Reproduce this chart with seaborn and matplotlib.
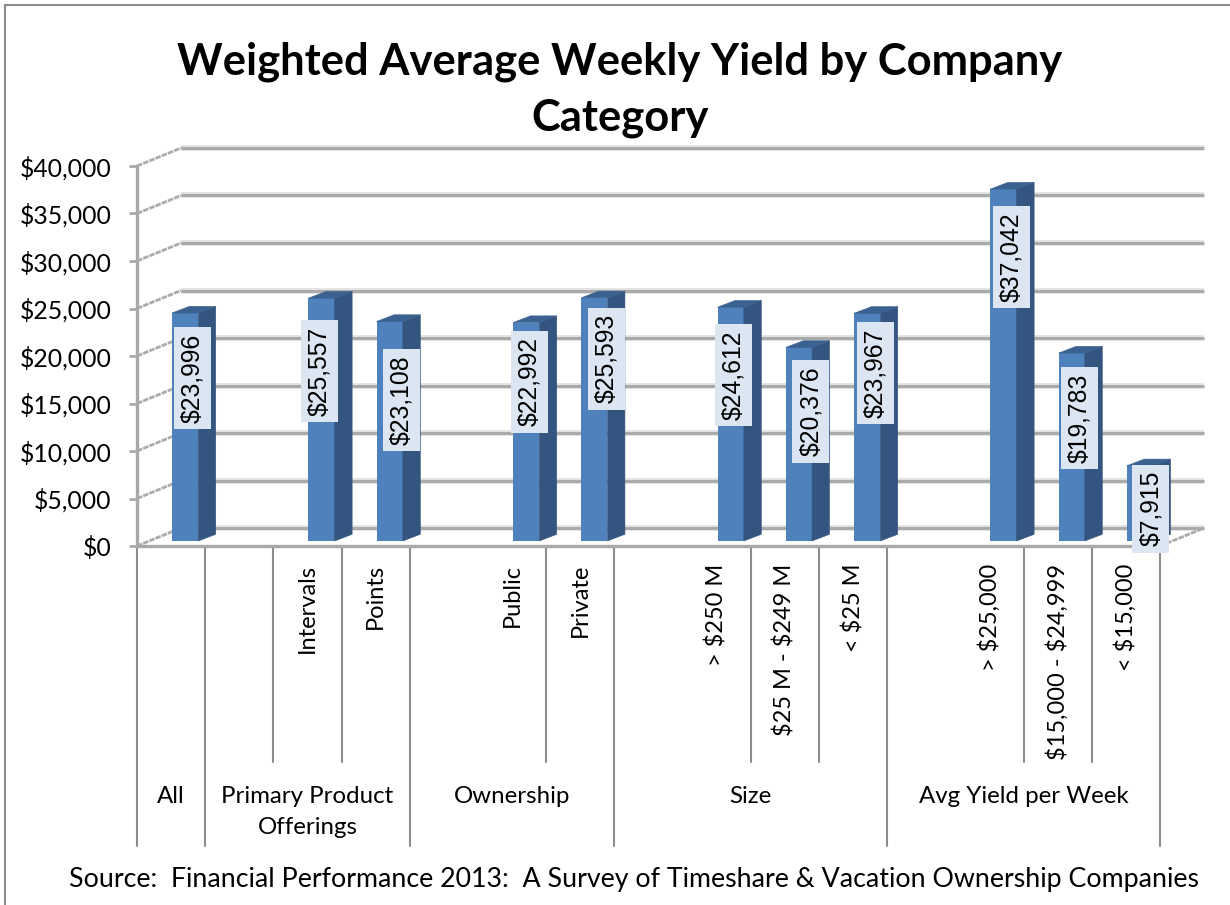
import matplotlib
matplotlib.use("Agg")
import matplotlib.pyplot as plt
import pandas as pd
import seaborn as sns
from matplotlib.patches import Polygon, Rectangle
from matplotlib.ticker import StrMethodFormatter
from matplotlib.transforms import Affine2D

# ---------- data ----------
slots = [0, 2, 3, 5, 6, 8, 9, 10, 12, 13, 14]
leaf_labels = ["", "Intervals", "Points", "Public", "Private", "> $250 M",
               "$25 M - $249 M", "< $25 M", "> $25,000", "$15,000 - $24,999", "< $15,000"]
values = [23996, 25557, 23108, 22992, 25593, 24612, 20376, 23967, 37042, 19783, 7915]
group_names = ["All", "Primary Product\nOfferings", "Ownership", "Size", "Avg Yield per Week"]
group_edges = [-0.5, 0.5, 3.5, 6.5, 10.5, 14.5]
leaf_edges = [1.5, 2.5, 5.5, 8.5, 9.5, 12.5, 13.5]
title = "Weighted Average Weekly Yield by Company\nCategory"
source = "Source:  Financial Performance 2013:  A Survey of Timeshare & Vacation Ownership Companies"

# label displacement from each bar's top (pixels), as hand-placed in the original
label_dx = [21, 12, 26, 17.5, 26, 17, 26, 22, 22, 22, 25]
label_dy = [-60, -68, -73.5, -54, -56, -63, -59, -55, -63, -60, -38]

# ---------- style ----------
W, H = 1230, 905
L, R, B, T = 137, 1160, 546, 166
GRID = "#A9A9A9"
FRONT, SIDE, TOP = "#4F81BD", "#34557F", "#3A618F"
sns.set_theme(style="white")
plt.rcParams["font.family"] = ["Lato", "DejaVu Sans"]

fig = plt.figure(figsize=(W / 100, H / 100), dpi=100, facecolor="white")
ax = fig.add_axes([L / W, (H - B) / H, (R - L) / W, (B - T) / H])
ax.set_facecolor("none")

df = pd.DataFrame({"slot": slots, "value": values})
sns.barplot(data=df, x="slot", y="value", order=list(range(15)), width=0.385,
            color=FRONT, saturation=1, errorbar=None, ax=ax, zorder=5)
ax.set_xlim(-0.5, 14.5)
ax.set_ylim(0, 40000)
ax.set_xlabel("")
ax.set_ylabel("")

ppx = (R - L) / 15
ppy = (B - T) / 40000

# walls
back = ax.transData + Affine2D().translate(44, 18)
yticks = list(range(0, 40001, 5000))
for v in yticks:
    ax.plot([-0.5, 14.5], [v, v], transform=back, color="#E2E2E2", lw=4.2, clip_on=False, zorder=1, solid_capstyle="butt")
    ax.plot([-0.5, 14.5], [v, v], transform=back, color=GRID, lw=2.1, clip_on=False, zorder=2, solid_capstyle="butt")
    ax.plot([-0.5, -0.5 + 44 / ppx], [v, v + 18 / ppy], color="#ABABAB", lw=2.0,
            ls=(0, (2.0, 0.4)), clip_on=False, zorder=2)
ax.plot([14.5, 14.5 + 44 / ppx], [0, 18 / ppy], color="#ABABAB", lw=2.0,
        ls=(0, (2.0, 0.4)), clip_on=False, zorder=2)

# 3-D faces of the bars
bar_tf = ax.transData + Affine2D().translate(14, 5)
dx, dy = 17.5 / ppx, 6.7 / ppy
bars = [p for p in ax.patches if isinstance(p, Rectangle) and p.get_height() > 0]
for p in bars:
    p.set_transform(bar_tf)
    p.set_clip_on(False)
    p.set_edgecolor("none")
    x0, w, v = p.get_x(), p.get_width(), p.get_height()
    ax.add_patch(Polygon([(x0 + w, 0), (x0 + w + dx, dy), (x0 + w + dx, v + dy), (x0 + w, v)],
                         transform=bar_tf, fc=SIDE, ec=SIDE, lw=0.4, clip_on=False, zorder=5))
    ax.add_patch(Polygon([(x0, v), (x0 + dx, v + dy), (x0 + w + dx, v + dy), (x0 + w, v)],
                         transform=bar_tf, fc=TOP, ec=TOP, lw=0.4, clip_on=False, zorder=5))

# value labels
for s, v, ddx, ddy in zip(slots, values, label_dx, label_dy):
    ax.annotate(f"\\${v:,}", xy=(s, v), xytext=(ddx, ddy), textcoords="offset pixels",
                rotation=90, ha="center", va="center", fontsize=17.8, family="Liberation Sans",
                color="black", annotation_clip=False, zorder=8,
                bbox=dict(fc="#DCE6F2", ec="none", pad=4.6))

# axes
ax.yaxis.set_major_formatter(StrMethodFormatter("\\${x:,.0f}"))
ax.set_yticks(yticks)
ax.tick_params(axis="y", length=6, width=2, color=GRID, labelsize=17.8, pad=12.5, labelcolor="black", left=True)
ax.set_xticks([])
sns.despine(ax=ax, top=True, right=True)
for side in ("left", "bottom"):
    ax.spines[side].set_color(GRID)
    ax.spines[side].set_linewidth(2.4)
    ax.spines[side].set_zorder(4)

# multi-level category axis
xaxis_tf = ax.get_xaxis_transform()
leaf_bottom = -(762 - B) / (B - T)
group_bottom = -(846 - B) / (B - T)
for x in leaf_edges:
    ax.plot([x, x], [0, leaf_bottom], transform=xaxis_tf, color="#8C8C8C", lw=1.5, clip_on=False, zorder=1)
for x in group_edges:
    ax.plot([x, x], [0, group_bottom], transform=xaxis_tf, color="#8C8C8C", lw=1.5, clip_on=False, zorder=1)
leaf_top = -(564 - B) / (B - T)
for s, lab in zip(slots, leaf_labels):
    ax.text(s, leaf_top, lab.replace("$", "\\$"), transform=xaxis_tf, rotation=90, ha="center", va="top",
            fontsize=17, color="black", clip_on=False)
group_y = -(786 - B) / (B - T)
for a, b, lab in zip(group_edges[:-1], group_edges[1:], group_names):
    ax.text((a + b) / 2, group_y, lab, transform=xaxis_tf, ha="center", va="top",
            fontsize=17.3, color="black", linespacing=1.57, clip_on=False)

# title, source, frame
fig.text(620 / W, 1 - 90 / H, title, ha="center", va="center", fontsize=31.3, fontweight="bold",
         color="black", linespacing=1.47)
fig.text(634 / W, 1 - 879 / H, source, ha="center", va="center", fontsize=19.3, color="black")
fig.add_artist(Rectangle((5 / W, -0.02), 1.5, 1 - 5 / H + 0.02, transform=fig.transFigure,
                         fc="none", ec="#8C8C8C", lw=1.5))

fig.savefig("out.png", dpi=100)
